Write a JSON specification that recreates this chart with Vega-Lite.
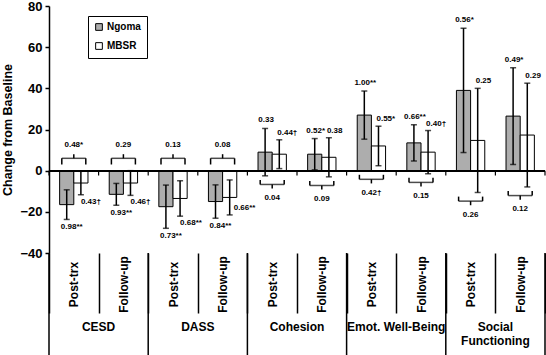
{
  "$schema": "https://vega.github.io/schema/vega-lite/v6.json",
  "width": 496,
  "height": 247,
  "autosize": {"type": "none"},
  "padding": {"left": 49, "top": 6, "right": 1, "bottom": 102},
  "config": {
    "font": "Liberation Sans",
    "view": {"stroke": null},
    "axis": {"grid": false, "labelColor": "black", "titleColor": "black", "domainColor": "black", "tickColor": "black"}
  },
  "datasets": {
    "bars": [
      {"measure": "CESD", "time": "Post-trx", "group": "Ngoma", "change": -16.5, "err": 7.2, "es": "0.98**"},
      {"measure": "CESD", "time": "Post-trx", "group": "MBSR", "change": -6, "err": 5.7, "es": "0.43†"},
      {"measure": "CESD", "time": "Follow-up", "group": "Ngoma", "change": -11.5, "err": 5.3, "es": "0.93**"},
      {"measure": "CESD", "time": "Follow-up", "group": "MBSR", "change": -6, "err": 6, "es": "0.46†"},
      {"measure": "DASS", "time": "Post-trx", "group": "Ngoma", "change": -17.5, "err": 10.5, "es": "0.73**"},
      {"measure": "DASS", "time": "Post-trx", "group": "MBSR", "change": -13.5, "err": 8.6, "es": "0.68**"},
      {"measure": "DASS", "time": "Follow-up", "group": "Ngoma", "change": -15, "err": 8.1, "es": "0.84**"},
      {"measure": "DASS", "time": "Follow-up", "group": "MBSR", "change": -13, "err": 8.5, "es": "0.66**"},
      {"measure": "Cohesion", "time": "Post-trx", "group": "Ngoma", "change": 9, "err": 11.5, "es": "0.33"},
      {"measure": "Cohesion", "time": "Post-trx", "group": "MBSR", "change": 8, "err": 7, "es": "0.44†"},
      {"measure": "Cohesion", "time": "Follow-up", "group": "Ngoma", "change": 8, "err": 7.6, "es": "0.52*"},
      {"measure": "Cohesion", "time": "Follow-up", "group": "MBSR", "change": 6.5, "err": 9.5, "es": "0.38"},
      {"measure": "Emot. Well-Being", "time": "Post-trx", "group": "Ngoma", "change": 27, "err": 11.7, "es": "1.00**"},
      {"measure": "Emot. Well-Being", "time": "Post-trx", "group": "MBSR", "change": 12, "err": 9.6, "es": "0.55*"},
      {"measure": "Emot. Well-Being", "time": "Follow-up", "group": "Ngoma", "change": 13.5, "err": 8.8, "es": "0.66**"},
      {"measure": "Emot. Well-Being", "time": "Follow-up", "group": "MBSR", "change": 9, "err": 10.5, "es": "0.40†"},
      {"measure": "Social Functioning", "time": "Post-trx", "group": "Ngoma", "change": 39, "err": 30.2, "es": "0.56*"},
      {"measure": "Social Functioning", "time": "Post-trx", "group": "MBSR", "change": 14.7, "err": 25.3, "es": "0.25"},
      {"measure": "Social Functioning", "time": "Follow-up", "group": "Ngoma", "change": 26.5, "err": 23.5, "es": "0.49*"},
      {"measure": "Social Functioning", "time": "Follow-up", "group": "MBSR", "change": 17.3, "err": 25.2, "es": "0.29"}
    ],
    "comparisons": [
      {"cell": "CESD|Post-trx", "d": "0.48*"},
      {"cell": "CESD|Follow-up", "d": "0.29"},
      {"cell": "DASS|Post-trx", "d": "0.13"},
      {"cell": "DASS|Follow-up", "d": "0.08"},
      {"cell": "Cohesion|Post-trx", "d": "0.04"},
      {"cell": "Cohesion|Follow-up", "d": "0.09"},
      {"cell": "Emot. Well-Being|Post-trx", "d": "0.42†"},
      {"cell": "Emot. Well-Being|Follow-up", "d": "0.15"},
      {"cell": "Social Functioning|Post-trx", "d": "0.26"},
      {"cell": "Social Functioning|Follow-up", "d": "0.12"}
    ]
  },
  "data": {"name": "bars"},
  "transform": [
    {"calculate": "datum.measure + '|' + datum.time", "as": "cell"},
    {"calculate": "datum.change - datum.err", "as": "lo"},
    {"calculate": "datum.change + datum.err", "as": "hi"},
    {"joinaggregate": [{"op": "min", "field": "lo", "as": "minLo"}], "groupby": ["cell"]}
  ],
  "layer": [
    {
      "mark": {"type": "bar", "stroke": "black", "strokeWidth": 1},
      "encoding": {
        "x": {
          "field": "cell", "type": "nominal",
          "scale": {
            "domain": ["CESD|Post-trx", "CESD|Follow-up", "DASS|Post-trx", "DASS|Follow-up", "Cohesion|Post-trx", "Cohesion|Follow-up", "Emot. Well-Being|Post-trx", "Emot. Well-Being|Follow-up", "Social Functioning|Post-trx", "Social Functioning|Follow-up"],
            "paddingInner": 0, "paddingOuter": 0
          },
          "axis": {"orient": "bottom", "title": null, "domain": false, "ticks": true, "tickBand": "extent", "tickSize": 60, "tickWidth": 1.5, "labelExpr": "split(datum.value, '|')[1]", "labelAngle": -90, "labelAlign": "center", "labelBaseline": "middle", "labelPadding": -29, "labelFontSize": 12, "labelFontWeight": "bold", "labelOverlap": false, "labelBound": false, "labelFlush": false}
        },
        "xOffset": {"field": "group", "type": "nominal", "scale": {"domain": ["Ngoma", "MBSR"], "paddingInner": 0, "paddingOuter": 0.75}},
        "y": {
          "field": "change", "type": "quantitative", "stack": null,
          "scale": {"domain": [-40, 80], "nice": false},
          "axis": {"orient": "left", "values": [-40, -20, 0, 20, 40, 60, 80], "title": "Change from Baseline", "titleFontSize": 12.5, "titleFontWeight": "bold", "titlePadding": 5, "labelFontSize": 13, "labelFontWeight": "bold", "labelPadding": 3, "domainWidth": 1.5, "tickSize": 4, "tickWidth": 1.5}
        },
        "fill": {
          "field": "group", "type": "nominal",
          "scale": {"domain": ["Ngoma", "MBSR"], "range": ["#adadad", "#ffffff"]},
          "legend": {"orient": "none", "legendX": 39, "legendY": 10, "title": null, "symbolType": "square", "symbolSize": 45, "symbolStrokeColor": "black", "symbolStrokeWidth": 1, "labelFontSize": 10, "labelFontWeight": "bold", "labelColor": "black", "labelOffset": 3, "strokeColor": "black", "fillColor": "white", "padding": 6, "rowPadding": 7}
        }
      }
    },
    {
      "mark": {"type": "rule", "color": "black", "strokeWidth": 1.5},
      "encoding": {"y": {"datum": 0.0001, "type": "quantitative"}}
    },
    {
      "transform": [{"filter": "datum.group === 'Ngoma'"}],
      "mark": {"type": "rule", "color": "black", "strokeWidth": 1.2, "xOffset": -24.8},
      "encoding": {
        "x": {"field": "cell", "type": "nominal"},
        "y": {"datum": 0.0001, "type": "quantitative"},
        "y2": {"datum": -2.4}
      }
    },
    {
      "transform": [{"filter": "datum.group === 'Ngoma' && datum.cell === 'Social Functioning|Follow-up'"}],
      "mark": {"type": "rule", "color": "black", "strokeWidth": 1.2, "xOffset": 24.8},
      "encoding": {
        "x": {"field": "cell", "type": "nominal"},
        "y": {"datum": 0.0001, "type": "quantitative"},
        "y2": {"datum": -2.4}
      }
    },
    {
      "transform": [{"filter": "datum.group === 'Ngoma' && datum.time === 'Post-trx'"}],
      "mark": {"type": "rule", "color": "black", "strokeWidth": 1.5, "xOffset": -24.8},
      "encoding": {
        "x": {"field": "cell", "type": "nominal"},
        "y": {"datum": -40, "type": "quantitative"},
        "y2": {"datum": -89.6}
      }
    },
    {
      "transform": [{"filter": "datum.group === 'Ngoma' && datum.cell === 'Social Functioning|Follow-up'"}],
      "mark": {"type": "rule", "color": "black", "strokeWidth": 1.5, "xOffset": 24.8},
      "encoding": {
        "x": {"field": "cell", "type": "nominal"},
        "y": {"datum": -40, "type": "quantitative"},
        "y2": {"datum": -89.6}
      }
    },
    {
      "transform": [
        {"filter": "datum.group === 'Ngoma' && datum.time === 'Post-trx'"},
        {"calculate": "datum.measure === 'Social Functioning' ? 'Social\\nFunctioning' : datum.measure", "as": "measureLabel"}
      ],
      "mark": {"type": "text", "fontSize": 12, "fontWeight": "bold", "align": "center", "baseline": "top", "lineBreak": "\n", "lineHeight": 14, "dx": 24.8},
      "encoding": {
        "x": {"field": "cell", "type": "nominal"},
        "y": {"datum": -73.5, "type": "quantitative"},
        "text": {"field": "measureLabel"}
      }
    },
    {
      "mark": {"type": "rule", "color": "black", "strokeWidth": 1.5},
      "encoding": {
        "x": {"field": "cell", "type": "nominal"},
        "xOffset": {"field": "group", "type": "nominal"},
        "y": {"field": "lo", "type": "quantitative"},
        "y2": {"field": "hi"}
      }
    },
    {
      "mark": {"type": "tick", "color": "black", "size": 6, "thickness": 1.5},
      "encoding": {
        "x": {"field": "cell", "type": "nominal"},
        "xOffset": {"field": "group", "type": "nominal"},
        "y": {"field": "lo", "type": "quantitative"}
      }
    },
    {
      "mark": {"type": "tick", "color": "black", "size": 6, "thickness": 1.5},
      "encoding": {
        "x": {"field": "cell", "type": "nominal"},
        "xOffset": {"field": "group", "type": "nominal"},
        "y": {"field": "hi", "type": "quantitative"}
      }
    },
    {
      "transform": [{"filter": "datum.group === 'Ngoma' && datum.change < 0"}],
      "mark": {"type": "text", "fontSize": 8, "fontWeight": "bold", "align": "center", "baseline": "middle", "dx": 5, "dy": 8},
      "encoding": {
        "x": {"field": "cell", "type": "nominal"},
        "xOffset": {"field": "group", "type": "nominal"},
        "y": {"field": "lo", "type": "quantitative"},
        "text": {"field": "es"}
      }
    },
    {
      "transform": [{"filter": "datum.group === 'Ngoma' && datum.change >= 0"}],
      "mark": {"type": "text", "fontSize": 8, "fontWeight": "bold", "align": "center", "baseline": "middle", "dx": 1, "dy": -8},
      "encoding": {
        "x": {"field": "cell", "type": "nominal"},
        "xOffset": {"field": "group", "type": "nominal"},
        "y": {"field": "hi", "type": "quantitative"},
        "text": {"field": "es"}
      }
    },
    {
      "transform": [{"filter": "datum.group === 'MBSR' && datum.change < 0 && datum.lo - datum.minLo >= 3"}],
      "mark": {"type": "text", "fontSize": 8, "fontWeight": "bold", "align": "left", "baseline": "middle", "dx": 0, "dy": 7},
      "encoding": {
        "x": {"field": "cell", "type": "nominal"},
        "xOffset": {"field": "group", "type": "nominal"},
        "y": {"field": "lo", "type": "quantitative"},
        "text": {"field": "es"}
      }
    },
    {
      "transform": [{"filter": "datum.group === 'MBSR' && datum.change < 0 && datum.lo - datum.minLo < 3"}],
      "mark": {"type": "text", "fontSize": 8, "fontWeight": "bold", "align": "left", "baseline": "middle", "dx": 4, "dy": -7},
      "encoding": {
        "x": {"field": "cell", "type": "nominal"},
        "xOffset": {"field": "group", "type": "nominal"},
        "y": {"field": "lo", "type": "quantitative"},
        "text": {"field": "es"}
      }
    },
    {
      "transform": [{"filter": "datum.group === 'MBSR' && datum.change >= 0"}],
      "mark": {"type": "text", "fontSize": 8, "fontWeight": "bold", "align": "left", "baseline": "middle", "dx": -2, "dy": -7},
      "encoding": {
        "x": {"field": "cell", "type": "nominal"},
        "xOffset": {"field": "group", "type": "nominal"},
        "y": {"field": "hi", "type": "quantitative"},
        "text": {"field": "es"}
      }
    },
    {
      "transform": [
        {"filter": "datum.group === 'Ngoma'"},
        {"lookup": "cell", "from": {"data": {"name": "comparisons"}, "key": "cell", "fields": ["d"]}},
        {"calculate": "min(datum.minLo, 0)", "as": "m"},
        {"calculate": "datum.change < 0 ? 3 : datum.m - 2", "as": "yEnd"},
        {"calculate": "datum.change < 0 ? 6 : datum.m - 4.2", "as": "yBar"},
        {"calculate": "datum.change < 0 ? 8 : datum.m - 6.2", "as": "yTip"},
        {"calculate": "datum.change < 0 ? 12.5 : datum.m - 10.8", "as": "yLab"}
      ],
      "layer": [
        {
          "mark": {"type": "tick", "color": "black", "size": 24, "thickness": 1.5},
          "encoding": {
            "x": {"field": "cell", "type": "nominal"},
            "y": {"field": "yBar", "type": "quantitative"}
          }
        },
        {
          "mark": {"type": "rule", "color": "black", "strokeWidth": 1.5, "xOffset": -12},
          "encoding": {
            "x": {"field": "cell", "type": "nominal"},
            "y": {"field": "yEnd", "type": "quantitative"},
            "y2": {"field": "yBar"}
          }
        },
        {
          "mark": {"type": "rule", "color": "black", "strokeWidth": 1.5, "xOffset": 12},
          "encoding": {
            "x": {"field": "cell", "type": "nominal"},
            "y": {"field": "yEnd", "type": "quantitative"},
            "y2": {"field": "yBar"}
          }
        },
        {
          "mark": {"type": "rule", "color": "black", "strokeWidth": 1.5},
          "encoding": {
            "x": {"field": "cell", "type": "nominal"},
            "y": {"field": "yBar", "type": "quantitative"},
            "y2": {"field": "yTip"}
          }
        },
        {
          "mark": {"type": "text", "fontSize": 8, "fontWeight": "bold", "align": "center", "baseline": "middle"},
          "encoding": {
            "x": {"field": "cell", "type": "nominal"},
            "y": {"field": "yLab", "type": "quantitative"},
            "text": {"field": "d"}
          }
        }
      ]
    }
  ]
}
